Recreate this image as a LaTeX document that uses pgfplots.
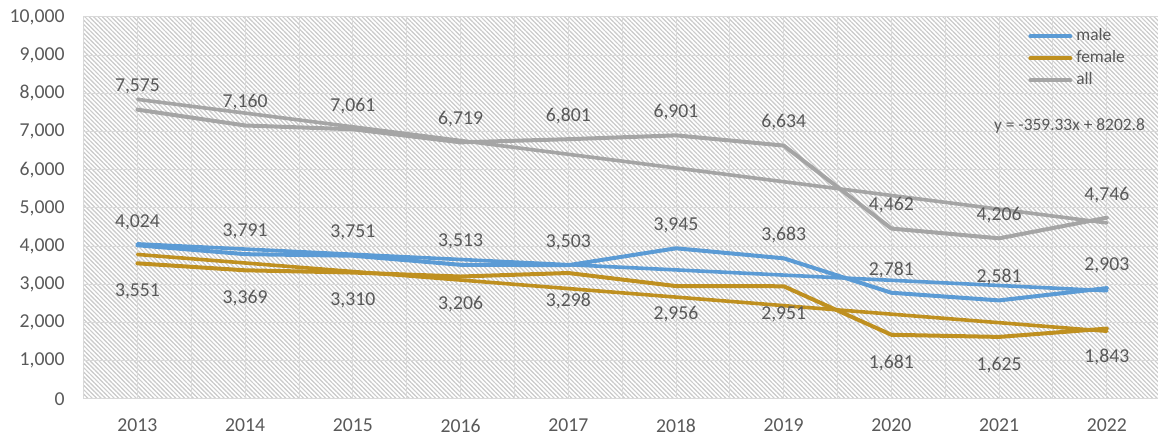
\documentclass[border=0pt]{standalone}
\usepackage{pgfplots}
\pgfplotsset{compat=1.18}
\usepackage{fontspec}
\setmainfont{Carlito}
\usetikzlibrary{patterns}
\definecolor{cmale}{HTML}{5B9BD5}
\definecolor{cfemale}{HTML}{BF9020}
\definecolor{call}{HTML}{A5A5A5}
\definecolor{textgray}{HTML}{595959}
\definecolor{gridgray}{HTML}{D9D9D9}
\definecolor{hatchgray}{HTML}{CCCCCC}
\pgfdeclarepatternformonly{diaghatch}{\pgfqpoint{-1pt}{-1pt}}{\pgfqpoint{3.2pt}{3.2pt}}{\pgfqpoint{2.2pt}{2.2pt}}{%
  \pgfsetlinewidth{0.5pt}%
  \pgfpathmoveto{\pgfqpoint{-1pt}{3.2pt}}%
  \pgfpathlineto{\pgfqpoint{3.2pt}{-1pt}}%
  \pgfusepath{stroke}}
\pgfplotsset{/pgf/number format/.cd, fixed, precision=0, 1000 sep={,}, assume math mode=true}
\newcommand{\lblfont}{\fontsize{9.85}{11}\selectfont}
\newcommand{\smfont}{\fontsize{8.7}{10}\selectfont}
\begin{document}
\begin{tikzpicture}
\begin{axis}[
  at={(0,0)}, anchor=south west,
  scale only axis, width=537.2pt, height=191pt,
  xmin=0.5, xmax=10.475, ymin=0, ymax=10000,
  xtick={1,2,3,4,5,6,7,8,9,10},
  xticklabels={2013,2014,2015,2016,2017,2018,2019,2020,2021,2022},
  minor xtick={0.5,1.5,2.5,3.5,4.5,5.5,6.5,7.5,8.5,9.5,10.5},
  ytick={0,1000,2000,3000,4000,5000,6000,7000,8000,9000,10000},
  scaled y ticks=false,
  grid=both,
  major grid style={gridgray, line width=0.5pt},
  minor grid style={gridgray, line width=0.5pt},
  major tick length=0pt, minor tick length=0pt,
  axis line style={gridgray, line width=0.5pt},
  axis background/.style={pattern=diaghatch, pattern color=hatchgray},
  ticklabel style={font=\lblfont, text=textgray},
  yticklabel style={xshift=-6pt},
  xticklabel style={yshift=-6.5pt},
  legend style={at={(0.879,0.970)}, anchor=north west, draw=none, fill=none,
    font=\smfont, text=textgray, inner sep=0pt, column sep=2pt, row sep=3.5pt,
    nodes={inner sep=0pt, text height=6pt, text depth=1.5pt}},
  legend cell align=left,
  legend image code/.code={\draw[#1] (0pt,0pt) -- (20pt,0pt);},
  every axis plot/.append style={line join=round, line cap=round},
]
\addplot[cmale, line width=2pt, nodes near coords,
  every node near coord/.append style={anchor=center, yshift=11.5pt, font=\lblfont, text=textgray}]
  coordinates {(1,4024) (2,3791) (3,3751) (4,3513) (5,3503) (6,3945) (7,3683) (8,2781) (9,2581) (10,2903)};
\addlegendentry{male}
\addplot[cfemale, line width=2pt, nodes near coords,
  every node near coord/.append style={anchor=center, yshift=-14pt, font=\lblfont, text=textgray}]
  coordinates {(1,3551) (2,3369) (3,3310) (4,3206) (5,3298) (6,2956) (7,2951) (8,1681) (9,1625) (10,1843)};
\addlegendentry{female}
\addplot[call, line width=2pt, nodes near coords,
  every node near coord/.append style={anchor=center, yshift=11.5pt, font=\lblfont, text=textgray}]
  coordinates {(1,7575) (2,7160) (3,7061) (4,6719) (5,6801) (6,6901) (7,6634) (8,4462) (9,4206) (10,4746)};
\addlegendentry{all}
% linear trendlines
\addplot[cmale, line width=1.8pt, forget plot] coordinates {(1,4059.96) (10,2835.04)};
\addplot[cfemale, line width=1.8pt, forget plot] coordinates {(1,3783.5) (10,1774.5)};
\addplot[call, line width=1.8pt, forget plot] coordinates {(1,7843.47) (10,4609.5)};
\node[font=\smfont, text=textgray] at (rel axis cs:0.9176,0.714) {y = -359.33x + 8202.8};
\end{axis}
\pgfresetboundingbox
\path[use as bounding box] (-41.8pt,-19.5pt) rectangle (537.2pt,199.5pt);
\end{tikzpicture}
\end{document}
